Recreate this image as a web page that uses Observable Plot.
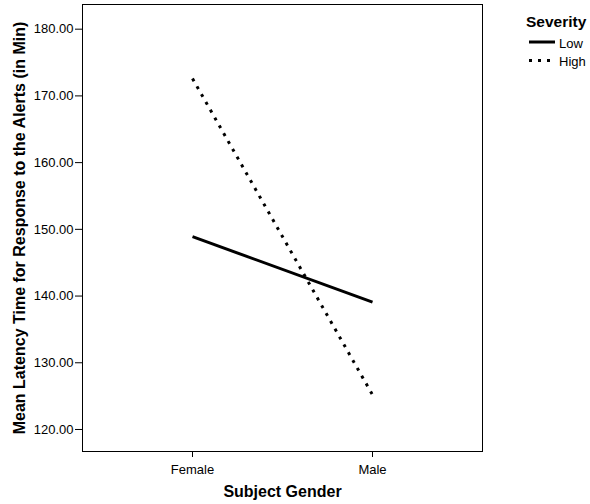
<!DOCTYPE html>
<html>
<head>
<meta charset="utf-8">
<script src="https://cdn.jsdelivr.net/npm/d3@7"></script>
<script src="https://cdn.jsdelivr.net/npm/@observablehq/plot@0.6"></script>
<style>
  html, body { margin: 0; padding: 0; background: #fff; }
  #wrap { position: relative; width: 590px; height: 504px; font-family: "Liberation Sans", Arial, sans-serif; }
  g[aria-label="y-axis label"] text, g[aria-label="x-axis label"] text { font-weight: bold; font-size: 16px; }
  #legend { position: absolute; left: 0; top: 0; }
</style>
</head>
<body>
<div id="wrap">
  <div id="chart"></div>
  <svg id="legend" width="590" height="80"></svg>
</div>
<script>
const genders = ["Female", "Male"];
const severities = ["Low", "High"];
const lowValues = [148.9, 139.1];
const highValues = [172.6, 125.2];
const yTicks = [120, 130, 140, 150, 160, 170, 180];
const dashes = { Low: null, High: "3,6" };

const rows = [];
severities.forEach((s, si) => {
  const vals = si === 0 ? lowValues : highValues;
  genders.forEach((g, gi) => rows.push({ gender: g, severity: s, value: vals[gi] }));
});

const chart = Plot.plot({
  width: 590,
  height: 504,
  marginLeft: 82,
  marginRight: 108,
  marginTop: 4,
  marginBottom: 53,
  style: { fontFamily: "Liberation Sans, Arial, sans-serif", fontSize: "13px", color: "#000", background: "#fff" },
  x: { type: "point", domain: genders, padding: 0.61 },
  y: { domain: [116.7, 183.7] },
  marks: [
    Plot.axisY({ ticks: yTicks, tickSize: 7, tickPadding: 2, tickFormat: d => d.toFixed(2),
      label: "Mean Latency Time for Response to the Alerts (in Min)", labelAnchor: "center", labelArrow: "none", labelOffset: 69 }),
    Plot.axisX({ tickSize: 6, tickPadding: 7, label: "Subject Gender", labelAnchor: "center", labelArrow: "none", labelOffset: 45 }),
    Plot.frame({ stroke: "#000", strokeWidth: 1 }),
    ...severities.map(s => Plot.line(rows.filter(r => r.severity === s), {
      x: "gender", y: "value", stroke: "#000", strokeWidth: 3,
      strokeDasharray: dashes[s], strokeLinecap: "butt"
    }))
  ]
});
document.getElementById("chart").appendChild(chart);

const lg = d3.select("#legend").style("font-family", "Liberation Sans, Arial, sans-serif");
lg.append("text").attr("x", 526).attr("y", 26.5).attr("font-size", 15.5).attr("font-weight", "bold").text("Severity");
severities.forEach((s, i) => {
  const y = 42 + i * 18.5;
  lg.append("line").attr("x1", 529).attr("x2", 555).attr("y1", y).attr("y2", y)
    .attr("stroke", "#000").attr("stroke-width", 3).attr("stroke-dasharray", dashes[s]);
  lg.append("text").attr("x", 559).attr("y", y + 5.5).attr("font-size", 13).text(s);
});
</script>
</body>
</html>
